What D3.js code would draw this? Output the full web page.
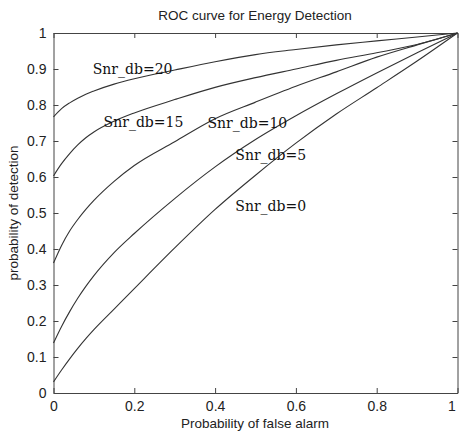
<!DOCTYPE html>
<html>
<head>
<meta charset="utf-8">
<script src="https://cdn.jsdelivr.net/npm/d3@7"></script>
<style>
  body { margin: 0; background: #fff; }
  svg { display: block; }
  .tick text { font-family: "Liberation Sans", Arial, sans-serif; font-size: 14px; fill: #222; }
</style>
</head>
<body>
<svg id="chart" width="459" height="432"></svg>
<script>
// probability of false alarm (x) and detection curves
const pfa   = [0, 0.02, 0.04, 0.06, 0.08, 0.1, 0.15, 0.2, 0.3, 0.4, 0.5, 0.6, 0.7, 0.8, 0.9, 1];
const snr20 = [0.767, 0.79, 0.806, 0.819, 0.83, 0.839, 0.858, 0.873, 0.897, 0.92, 0.94, 0.954, 0.967, 0.978, 0.989, 1];
const snr15 = [0.603, 0.637, 0.665, 0.689, 0.709, 0.725, 0.755, 0.778, 0.815, 0.849, 0.876, 0.9, 0.924, 0.945, 0.968, 1];
const snr10 = [0.361, 0.41, 0.45, 0.482, 0.51, 0.535, 0.588, 0.632, 0.698, 0.762, 0.808, 0.852, 0.892, 0.933, 0.967, 1];
const snr5  = [0.139, 0.185, 0.226, 0.263, 0.296, 0.326, 0.39, 0.443, 0.54, 0.628, 0.704, 0.77, 0.831, 0.889, 0.945, 1];
const snr0  = [0.031, 0.064, 0.095, 0.124, 0.151, 0.176, 0.233, 0.29, 0.403, 0.51, 0.605, 0.694, 0.775, 0.848, 0.922, 1];

const series = [snr20, snr15, snr10, snr5, snr0];
const labels = ["Snr_db=20", "Snr_db=15", "Snr_db=10", "Snr_db=5", "Snr_db=0"];
const labelX = [0.097, 0.124, 0.381, 0.45, 0.45];
const labelY = [0.9, 0.753, 0.75, 0.661, 0.52];

const xTicks = [0, 0.2, 0.4, 0.6, 0.8, 1];
const yTicks = [0, 0.1, 0.2, 0.3, 0.4, 0.5, 0.6, 0.7, 0.8, 0.9, 1];

const svg = d3.select("#chart");
const mLeft = 53.5, mRight = 457.5, mTop = 33, mBottom = 393;

const x = d3.scaleLinear().domain([0, 1]).range([mLeft, mRight]);
const y = d3.scaleLinear().domain([0, 1]).range([mBottom, mTop]);

const fmt = d => String(d);

// axes, ticks inside like matlab
const xAxis = svg.append("g")
  .attr("transform", "translate(0," + mBottom + ")")
  .call(d3.axisBottom(x).tickValues(xTicks).tickFormat(fmt).tickSizeInner(-5).tickSizeOuter(0).tickPadding(8));
// last label sits at the window edge, keep it inside
xAxis.selectAll(".tick text").filter(d => d === 1).attr("text-anchor", "end").attr("dx", "-0.15em");

svg.append("g")
  .attr("transform", "translate(0," + mTop + ")")
  .call(d3.axisTop(x).tickValues(xTicks).tickFormat("").tickSizeInner(-5).tickSizeOuter(0));
svg.append("g")
  .attr("transform", "translate(" + mLeft + ",0)")
  .call(d3.axisLeft(y).tickValues(yTicks).tickFormat(fmt).tickSizeInner(-5).tickSizeOuter(0).tickPadding(7));
svg.append("g")
  .attr("transform", "translate(" + mRight + ",0)")
  .call(d3.axisRight(y).tickValues(yTicks).tickFormat("").tickSizeInner(-5).tickSizeOuter(0));

svg.selectAll(".domain").attr("stroke", "#444");
svg.selectAll(".tick line").attr("stroke", "#444");

// curves
const line = d3.line()
  .x((d, i) => x(pfa[i]))
  .y(d => y(d))
  .curve(d3.curveMonotoneX);

svg.append("g")
  .selectAll("path")
  .data(series)
  .join("path")
  .attr("d", line)
  .attr("fill", "none")
  .attr("stroke", "#333")
  .attr("stroke-width", 1.1);

// labels
svg.append("g")
  .selectAll("text")
  .data(labels)
  .join("text")
  .attr("x", (d, i) => x(labelX[i]))
  .attr("y", (d, i) => y(labelY[i]))
  .attr("dy", "0.35em")
  .attr("font-family", "'DejaVu Serif', serif")
  .attr("font-size", 14)
  .attr("fill", "#111")
  .text(d => d);

svg.append("text")
  .attr("x", 255).attr("y", 20)
  .attr("text-anchor", "middle")
  .attr("font-family", "'Liberation Sans', Arial, sans-serif")
  .attr("font-size", 13.5)
  .attr("fill", "#222")
  .text("ROC curve for Energy Detection");

svg.append("text")
  .attr("x", 255).attr("y", 428)
  .attr("text-anchor", "middle")
  .attr("font-family", "'Liberation Sans', Arial, sans-serif")
  .attr("font-size", 13.5)
  .attr("fill", "#222")
  .text("Probability of false alarm");

svg.append("text")
  .attr("transform", "translate(18,213) rotate(-90)")
  .attr("text-anchor", "middle")
  .attr("font-family", "'Liberation Sans', Arial, sans-serif")
  .attr("font-size", 13.5)
  .attr("fill", "#222")
  .text("probability of detection");
</script>
</body>
</html>
